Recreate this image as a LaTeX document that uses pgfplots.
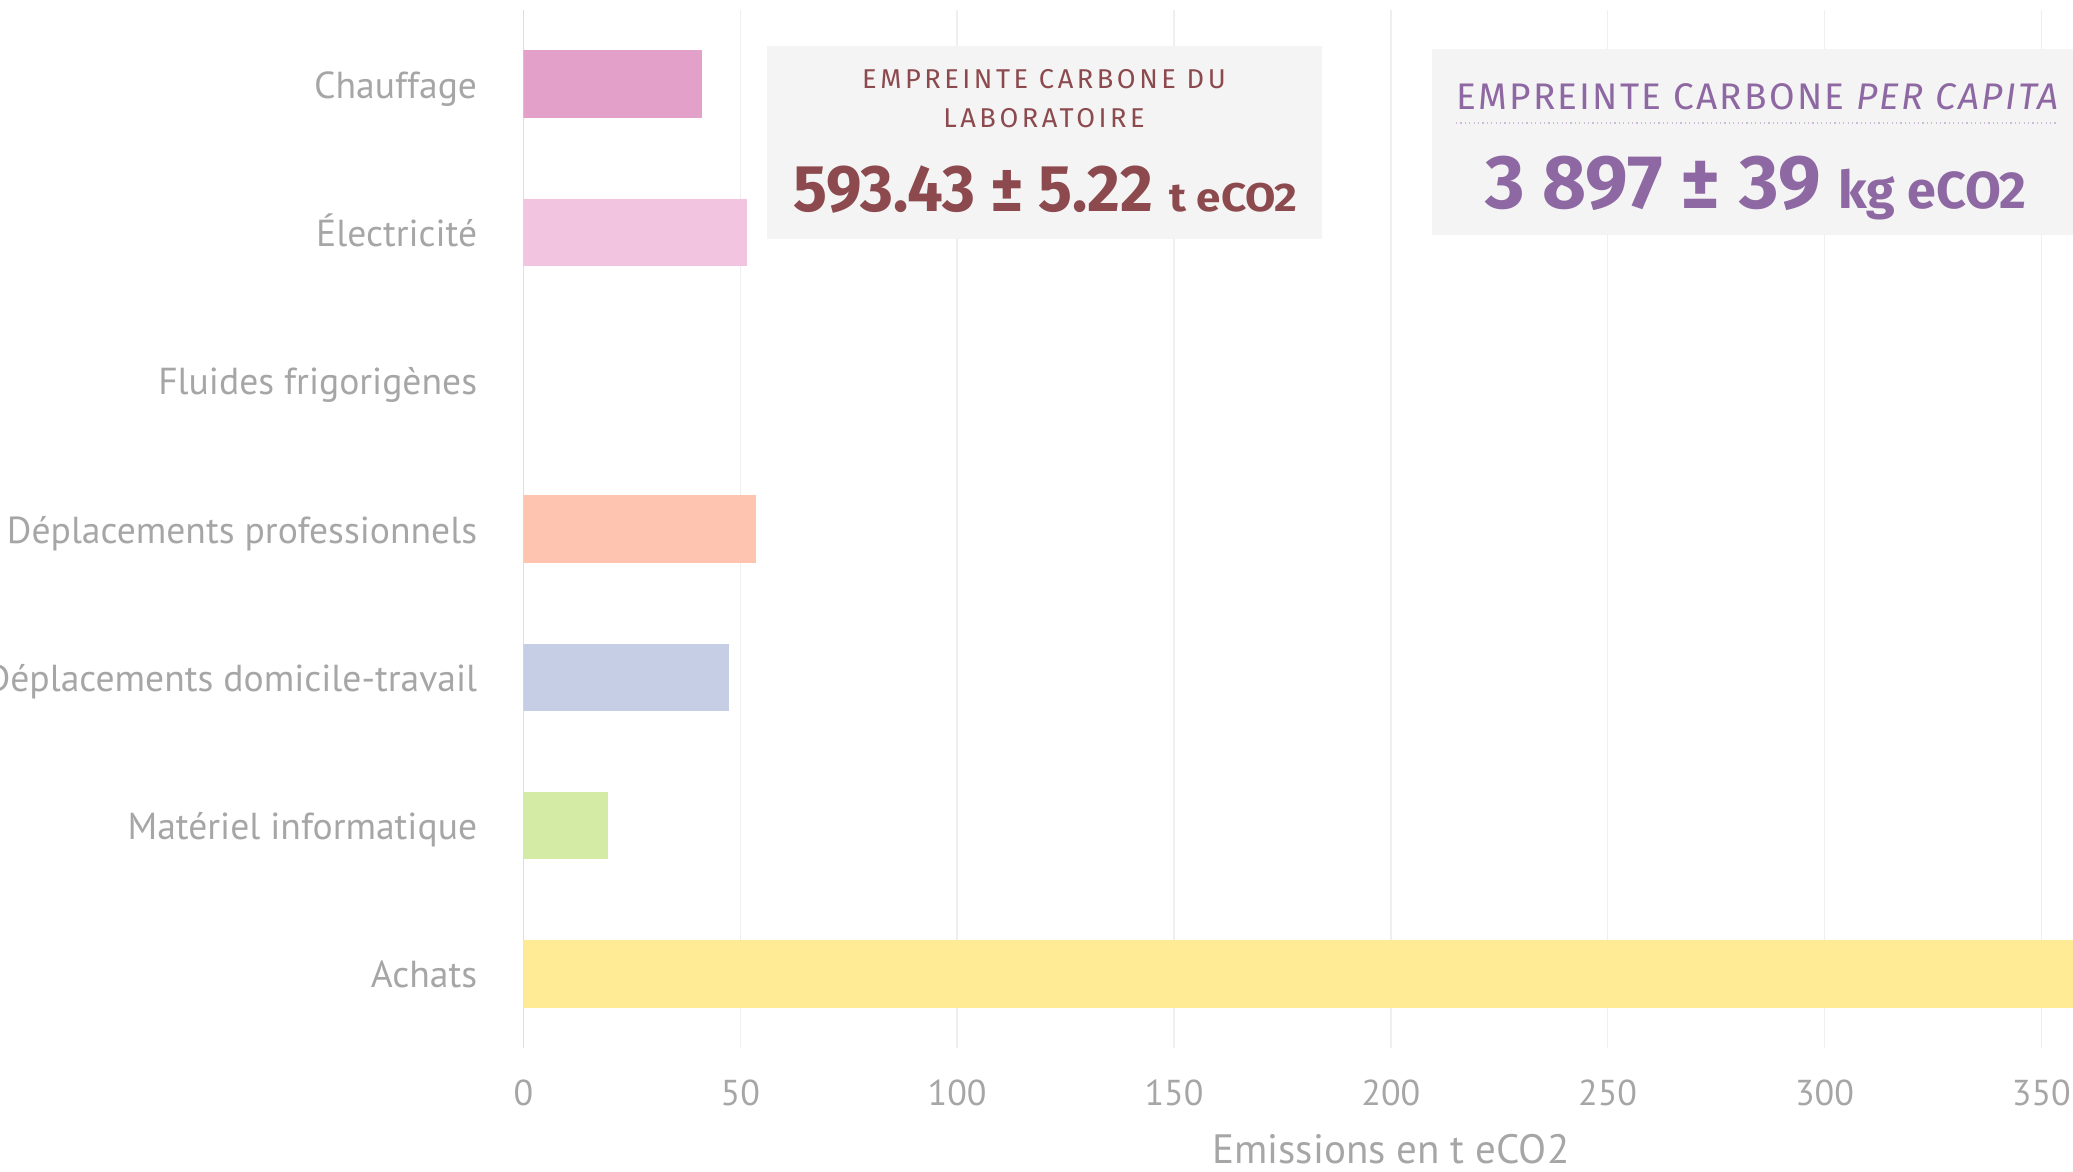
\documentclass[border=0pt]{standalone}
\usepackage{pgfplots}
\pgfplotsset{compat=1.18}
\usepackage{graphicx}
\usepackage{fontspec}
\setmainfont{PT Sans}
\newfontfamily\boxfont{Fira Sans}
\definecolor{cChauf}{HTML}{E3A1C9}
\definecolor{cElec}{HTML}{F2C4E0}
\definecolor{cDP}{HTML}{FEC4B0}
\definecolor{cDT}{HTML}{C6CEE6}
\definecolor{cMat}{HTML}{D4EBA6}
\definecolor{cAch}{HTML}{FFEA96}
\definecolor{txtgray}{HTML}{A6A6A6}
\definecolor{gridgray}{HTML}{EFEFEF}
\definecolor{axiscol}{HTML}{DCDCF2}
\definecolor{boxbg}{HTML}{F4F4F4}
\definecolor{brownred}{HTML}{8C4A4E}
\definecolor{purp}{HTML}{8E68A2}
\begin{document}
\begin{tikzpicture}
\begin{axis}[
  at={(0pt,0pt)}, anchor=south west,
  scale only axis, width=774.75pt, height=519pt,
  xmin=0, xmax=357.3, ymin=-0.5, ymax=6.5, y dir=reverse,
  xbar, bar width=33.7pt,
  axis line style={draw=none},
  major tick length=0pt,
  xtick={50,100,...,350},
  extra x ticks={0}, extra x tick labels={0},
  extra x tick style={grid style={axiscol, line width=0.8pt}},
  xmajorgrids, grid style={gridgray, line width=0.7pt},
  ytick={0,...,6},
  yticklabels={Chauffage,Électricité,Fluides frigorigènes,Déplacements professionnels,Déplacements domicile-travail,Matériel informatique,Achats},
  tick label style={font=\fontsize{18}{20}\selectfont, text=txtgray},
  /pgf/number format/assume math mode=true,
  xticklabel style={anchor=base, inner sep=0pt, yshift=-28.5pt},
  yticklabel style={anchor=base east, inner sep=0pt, xshift=-23pt, yshift=-7pt, font=\fontsize{18.8}{20}\selectfont},
  xlabel={Emissions en t eCO2},
  xlabel style={at={(axis cs:200,6.5)}, anchor=base, inner sep=0pt, yshift=-57.5pt, font=\fontsize{20.5}{22}\selectfont, text=txtgray},
  clip=true,
]
\addplot[fill=cChauf, draw=none, bar shift=0pt] coordinates {(41.2,0)};
\addplot[fill=cElec, draw=none, bar shift=0pt] coordinates {(51.5,1)};
\addplot[fill=white, draw=none, bar shift=0pt] coordinates {(0,2)};
\addplot[fill=cDP, draw=none, bar shift=0pt] coordinates {(53.7,3)};
\addplot[fill=cDT, draw=none, bar shift=0pt] coordinates {(47.4,4)};
\addplot[fill=cMat, draw=none, bar shift=0pt] coordinates {(19.4,5)};
\addplot[fill=cAch, draw=none, bar shift=0pt] coordinates {(380.2,6)};
\end{axis}
% Box 1
\fill[boxbg] (121.75pt,404.5pt) rectangle (399.25pt,501pt);
\node[anchor=base, inner sep=0pt, text=brownred] at (260.25pt,479.7pt)
  {\boxfont\addfontfeatures{LetterSpace=13}\fontsize{13.6}{15}\selectfont EMPREINTE CARBONE DU};
\node[anchor=base, inner sep=0pt, text=brownred] at (260.25pt,460pt)
  {\boxfont\addfontfeatures{LetterSpace=13}\fontsize{13.6}{15}\selectfont LABORATOIRE};
\node[anchor=base, inner sep=0pt, text=brownred] at (261pt,418.25pt)
  {\boxfont\bfseries\scalebox{0.96}[1]{\fontsize{33}{36}\selectfont 593.43 ± 5.22}\hspace{8pt}\scalebox{1.1}[1]{\fontsize{20}{22}\selectfont t eCO2}};
% Box 2
\fill[boxbg] (454.25pt,406.5pt) rectangle (800pt,499.5pt);
\node[anchor=base west, inner sep=0pt, text=purp] at (466.25pt,469.1pt)
  {\boxfont\addfontfeatures{LetterSpace=6}\fontsize{18.5}{20}\selectfont EMPREINTE CARBONE \textit{PER CAPITA}};
\draw[purp!45, line width=0.6pt, dash pattern=on 0.6pt off 1.6pt] (466.25pt,462.5pt) -- (766.75pt,462.5pt);
\node[anchor=base, inner sep=0pt, text=purp] at (616.25pt,419.5pt)
  {\boxfont\bfseries{\fontsize{38}{40}\selectfont 3 897 ± 39}\hspace{9pt}{\fontsize{26}{28}\selectfont kg eCO2}};
\pgfresetboundingbox
\path (-261.75pt,-62pt) rectangle (774.75pt,524pt);
\end{tikzpicture}
\end{document}
